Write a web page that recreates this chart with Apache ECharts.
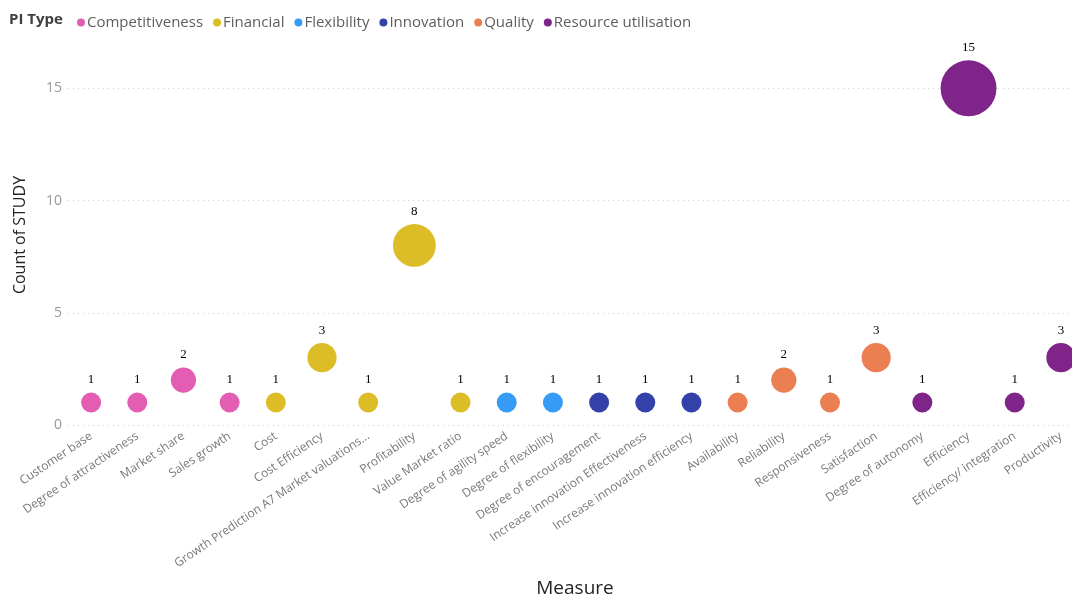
<!DOCTYPE html>
<html>
<head>
<meta charset="utf-8">
<script src="https://cdn.jsdelivr.net/npm/echarts@6/dist/echarts.min.js"></script>
<style>html,body{margin:0;padding:0;background:#fff}#c{width:1072px;height:599px}</style>
</head>
<body>
<div id="c"></div>
<script>
var categories = ["Customer base","Degree of attractiveness","Market share","Sales growth","Cost","Cost Efficiency","Growth Prediction A7 Market valuations...","Profitability","Value Market ratio","Degree of agility speed","Degree of flexibility","Degree of encouragement","Increase innovation Effectiveness","Increase innovation efficiency","Availability","Reliability","Responsiveness","Satisfaction","Degree of autonomy","Efficiency","Efficiency/ integration","Productivity"];
var piTypes = ["Competitiveness","Financial","Flexibility","Innovation","Quality","Resource utilisation"];
var colors = ["#E35DB2","#DDBD27","#359BF7","#3441A9","#EB7F51","#7F2589"];
var competitiveness = [["Customer base",1],["Degree of attractiveness",1],["Market share",2],["Sales growth",1]];
var financial = [["Cost",1],["Cost Efficiency",3],["Growth Prediction A7 Market valuations...",1],["Profitability",8],["Value Market ratio",1]];
var flexibility = [["Degree of agility speed",1],["Degree of flexibility",1]];
var innovation = [["Degree of encouragement",1],["Increase innovation Effectiveness",1],["Increase innovation efficiency",1]];
var quality = [["Availability",1],["Reliability",2],["Responsiveness",1],["Satisfaction",3]];
var resource = [["Degree of autonomy",1],["Efficiency",15],["Efficiency/ integration",1],["Productivity",3]];
var yTicks = [0,5,10,15];

var seriesData = [competitiveness, financial, flexibility, innovation, quality, resource];
var font = "'Segoe UI','Open Sans','Noto Sans',sans-serif";

var chart = echarts.init(document.getElementById('c'));
chart.setOption({
  animation: false,
  color: colors,
  textStyle: {fontFamily: font},
  grid: {left: 68, width: 1016, top: 88.3, height: 336.7, containLabel: false, outerBoundsMode: 'none'},
  legend: {
    data: piTypes, left: 72, top: 10, icon: 'circle', itemWidth: 8, itemHeight: 8,
    itemGap: 10, textStyle: {fontFamily: font, fontSize: 15, color: '#605E5C', padding: [0,0,0,-3]}
  },
  graphic: [
    {type: 'text', x: 9, y: 20, style: {text: 'PI Type', font: "bold 15px " + font, fill: '#404040', verticalAlign: 'middle'}},
    {type: 'text', x: 575, y: 589, style: {text: 'Measure', font: "19px " + font, fill: '#252423', align: 'center', verticalAlign: 'middle'}},
    {type: 'text', x: 20, y: 235, rotation: Math.PI/2, style: {text: 'Count of STUDY', font: "16px " + font, fill: '#252423', align: 'center', verticalAlign: 'middle'}}
  ],
  xAxis: {
    type: 'category', data: categories, boundaryGap: true,
    axisLine: {show: false}, axisTick: {show: false}, splitLine: {show: false},
    axisLabel: {rotate: 34, interval: 0, margin: 10, fontSize: 12, color: '#777', fontFamily: font}
  },
  yAxis: {
    type: 'value', min: yTicks[0], max: yTicks[yTicks.length-1], interval: 5,
    axisLine: {show: false}, axisTick: {show: false},
    axisLabel: {fontSize: 14, color: '#999', margin: 6, fontFamily: font},
    splitLine: {lineStyle: {type: [1,4], color: '#ccc', width: 1}}
  },
  series: seriesData.map(function (d, i) {
    return {
      name: piTypes[i], type: 'scatter', data: d, clip: false,
      symbolSize: function (v) { return 7.5 + 12.5 * Math.sqrt(v[1]); },
      itemStyle: {color: colors[i], opacity: 1},
      label: {show: true, position: 'top', distance: 6, formatter: function (p) { return p.value[1]; },
        fontFamily: "'Liberation Serif','Times New Roman',serif", fontSize: 13, color: '#000'}
    };
  })
});
</script>
</body>
</html>
